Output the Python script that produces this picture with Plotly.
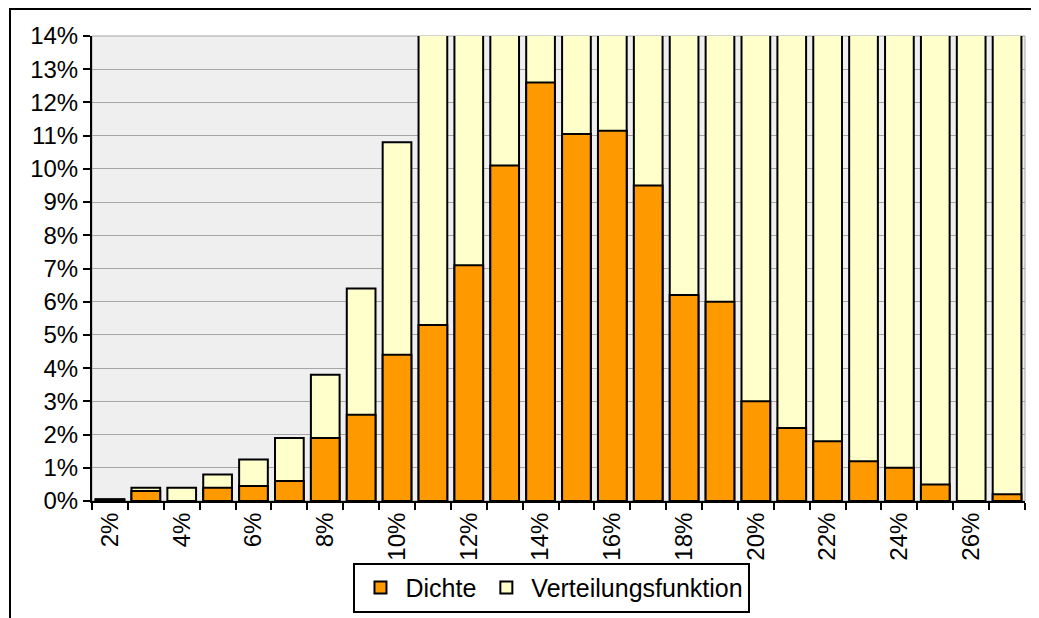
import plotly.graph_objects as go

categories = [f"{i}%" for i in range(2, 28)]
dichte = [0.05, 0.3, 0.0, 0.4, 0.45, 0.6, 1.9, 2.6, 4.4, 5.3, 7.1, 10.1, 12.6,
          11.05, 11.15, 9.5, 6.2, 6.0, 3.0, 2.2, 1.8, 1.2, 1.0, 0.5, 0.0, 0.2]
verteilung = [0.05, 0.4, 0.4, 0.8, 1.25, 1.9, 3.8, 6.4, 10.8, 16.1, 23.2, 33.3, 45.9,
              57.0, 68.1, 77.6, 83.8, 89.8, 92.8, 95.0, 96.8, 98.0, 99.0, 99.5, 99.5, 99.7]
y_ticks = list(range(0, 15))

FONT = "Liberation Sans, Arial, sans-serif"

fig = go.Figure()
fig.add_trace(go.Bar(
    x=categories, y=verteilung, name="Verteilungsfunktion",
    marker=dict(color="#FFFFCC", line=dict(color="black", width=2)),
    legendrank=2,
))
fig.add_trace(go.Bar(
    x=categories, y=dichte, name="Dichte",
    marker=dict(color="#FF9900", line=dict(color="black", width=2)),
    legendrank=1,
))

fig.update_layout(
    width=1031, height=610,
    margin=dict(l=84, r=14, t=28, b=117, autoexpand=False),
    barmode="overlay", bargap=0.2,
    paper_bgcolor="white", plot_bgcolor="#efefef",
    font=dict(family=FONT, size=24, color="black"),
    showlegend=True,
    legend=dict(orientation="h", x=0.493, xanchor="center", y=-0.133, yanchor="top",
                bordercolor="black", borderwidth=2, font=dict(size=25),
                itemwidth=40, tracegroupgap=0, valign="middle"),
    xaxis=dict(type="category", tickson="boundaries", ticks="outside", ticklen=7,
               tickwidth=2, tickcolor="black", showline=True, linecolor="black",
               linewidth=2, tickangle=-90, ticklabelstep=2, showgrid=False,
               tickfont=dict(size=24), automargin=False),
    yaxis=dict(range=[0, 14], tickvals=y_ticks, ticktext=[f"{v}%" for v in y_ticks],
               ticks="outside", ticklen=7, tickwidth=2, tickcolor="black",
               showline=True, linecolor="black", linewidth=2,
               showgrid=True, gridcolor="#a6a6a6", gridwidth=1, zeroline=False,
               tickfont=dict(size=24), automargin=False),
    shapes=[
        dict(type="rect", xref="paper", yref="paper", x0=0, x1=1, y0=0, y1=1,
             line=dict(color="#a6a6a6", width=1), layer="below"),
        dict(type="rect", xref="paper", yref="paper", x0=-0.0879, x1=1.03,
             y0=-0.3, y1=1.058, line=dict(color="black", width=2), layer="above"),
    ],
)

fig.write_html("out.html")
